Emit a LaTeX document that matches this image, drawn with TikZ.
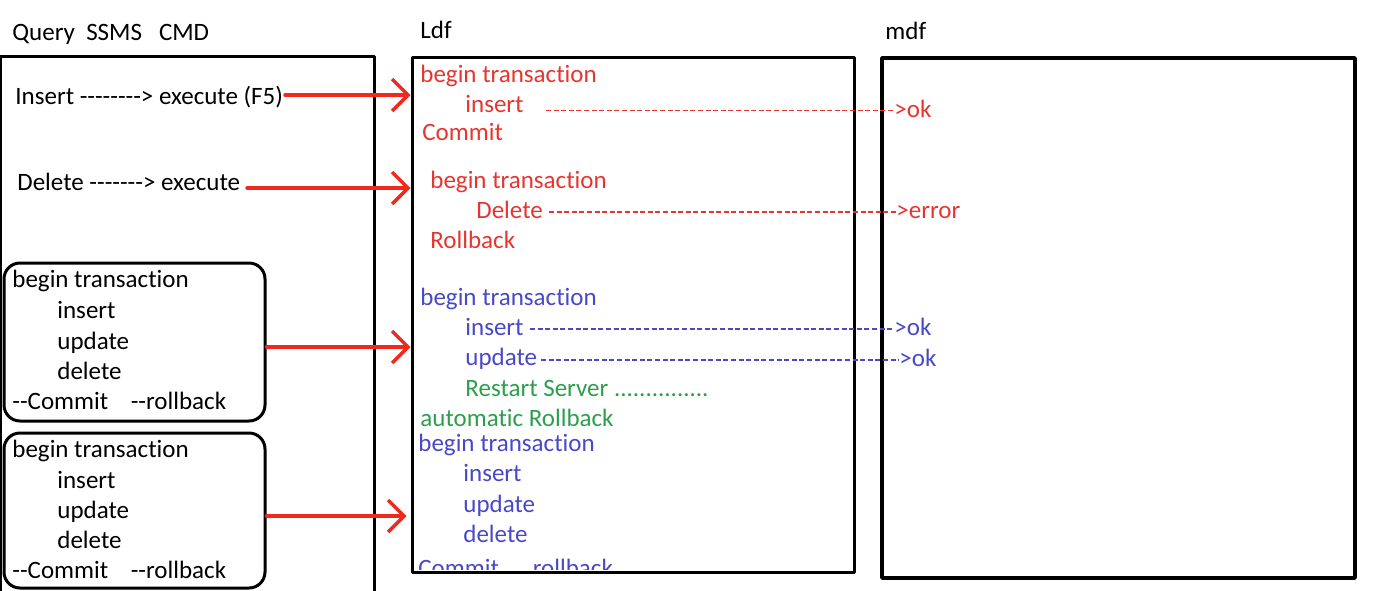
\documentclass[tikz,border=0pt]{standalone}
\usepackage{fontspec}
\setmainfont{Carlito}[Ligatures={TeXOff,NoCommon}]
\usetikzlibrary{arrows.meta}
\definecolor{ldfred}{RGB}{232,52,46}
\definecolor{ldfblue}{RGB}{72,72,200}
\definecolor{ldfgreen}{RGB}{44,158,76}
\definecolor{arrred}{RGB}{240,40,30}
\begin{document}
\begin{tikzpicture}[x=.5pt,y=-.5pt,line join=round,line cap=round,
 font=\fontsize{12.5}{15}\selectfont,
 ln/.style={anchor=base west,inner sep=0pt},
 pane/.style={draw,line width=1.5pt,inner sep=0pt},
 fire/.style={draw=arrred,line width=1.7pt,-{Straight Barb[length=8pt,width=16pt,line width=1.7pt]}},
 dots/.style={dash pattern=on 2.5pt off 1.3pt,line width=.7pt,line cap=butt}]
 \useasboundingbox (0,0) rectangle (1378,590);
 % headings
 \node[ln] (hq) at (12,40) {Query\ \ SSMS\ \ \ CMD};
 \node[ln] (hl) at (420,38) {Ldf};
 \node[ln] (hm) at (885,39) {mdf};
 % panes
 \draw[line width=1.5pt] (0,600) |- (374,56) -- (374,600);
 \node[pane,minimum width=221pt,minimum height=257.5pt] (ldf) at (633,314.5) {};
 \node[pane,line width=1.75pt,minimum width=236.5pt,minimum height=260pt] (mdf) at (1118.5,318) {};
 \node[pane,rounded corners=8pt,minimum width=130.5pt,minimum height=79pt] (box1) at (134.5,342) {};
 \node[pane,rounded corners=8pt,minimum width=130.5pt,minimum height=77.5pt] (box2) at (134.5,510.5) {};
 % query side
 \node[ln] (qi) at (15,104) {Insert --------> execute (F5)};
 \node[ln] (qd) at (17,190) {Delete -------> execute};
 \node[ln] (t1b) at (12,287) {begin transaction};
 \node[ln] (t1i) at (57,318) {insert};
 \node[ln] (t1u) at (57,349) {update};
 \node[ln] (t1d) at (57,379) {delete};
 \node[ln] (t1c) at (12,409) {--Commit\ \ \ \ --rollback};
 \node[ln] (t2b) at (12,457) {begin transaction};
 \node[ln] (t2i) at (57,488) {insert};
 \node[ln] (t2u) at (57,518) {update};
 \node[ln] (t2d) at (57,548) {delete};
 \node[ln] (t2c) at (12,578) {--Commit\ \ \ \ --rollback};
 % ldf side
 \node[ln,ldfred] (rb1) at (420,82) {begin transaction};
 \node[ln,ldfred] (ri1) at (465,112) {insert};
 \node[ln,ldfred] (rc1) at (422,140) {Commit};
 \node[ln,ldfred] (ok1) at (894,117) {>ok};
 \node[ln,ldfred] (rb2) at (430,188) {begin transaction};
 \node[ln,ldfred] (rd2) at (476,218) {Delete};
 \node[ln,ldfred] (rr2) at (430,248) {Rollback};
 \node[ln,ldfred] (er2) at (896,218) {>error};
 \node[ln,ldfblue] (bb3) at (420,305) {begin transaction};
 \node[ln,ldfblue] (bi3) at (465,335) {insert};
 \node[ln,ldfblue] (ok3) at (894,335) {>ok};
 \node[ln,ldfblue] (bu3) at (465,365) {update};
 \node[ln,ldfblue] (ok4) at (899,366) {>ok};
 \node[ln,ldfgreen] (gs3) at (465,396) {Restart Server ...............};
 \node[ln,ldfgreen] (ga3) at (420,426) {automatic Rollback};
 \node[ln,ldfblue] (bb4) at (418,451) {begin transaction};
 \node[ln,ldfblue] (bi4) at (463,481) {insert};
 \node[ln,ldfblue] (bu4) at (463,512) {update};
 \node[ln,ldfblue] (bd4) at (463,542) {delete};
 \begin{scope}
 \clip (414,440) rectangle (852,569);
 \node[ln,ldfblue] (bc4) at (418,576) {Commit\ \ \ \ \ \ rollback};
 \end{scope}
 % dashed leaders
 \coordinate (d1) at (546,110.5);
 \coordinate (d2) at (549,212);
 \coordinate (d3) at (530,329);
 \coordinate (d4) at (541,360);
 \draw[dots,ldfred] (d1) -- (d1 -| ok1.west);
 \draw[dots,ldfred] (d2) -- (d2 -| er2.west);
 \draw[dots,ldfblue] (d3) -- (d3 -| ok3.west);
 \draw[dots,ldfblue] (d4) -- (d4 -| ok4.west);
 % red arrows
 \coordinate (a1) at (285,95);
 \coordinate (a2) at (247,188);
 \coordinate (a3) at ([yshift=-2.5pt]box1.east);
 \coordinate (a4) at ([yshift=-2.75pt]box2.east);
 \draw[fire] (a1) -- (a1 -| ldf.west);
 \draw[fire] (a2) -- (a2 -| ldf.west);
 \draw[fire] (a3) -- (a3 -| ldf.west);
 \draw[fire,shorten >=2pt] (a4) -- (a4 -| ldf.west);
\end{tikzpicture}
\end{document}
